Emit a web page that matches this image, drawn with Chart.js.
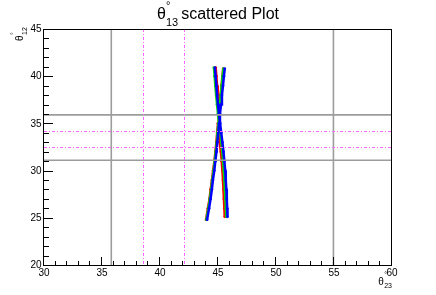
<!DOCTYPE html>
<html><head><meta charset="utf-8">
<script src="https://cdn.jsdelivr.net/npm/chart.js@4.4.0/dist/chart.umd.min.js"></script>
<style>html,body{margin:0;padding:0;background:#fff;}</style>
</head><body>
<canvas id="c" width="436" height="295"></canvas>
<script>
// ---- data ----
const xTicks = [30, 35, 40, 45, 50, 55, 60];
const yTicks = [20, 25, 30, 35, 40, 45];
const xRange = [30, 60];
const yRange = [20, 45];
const grayX = [35.8, 54.95];
const grayY = [35.9, 31.1];
const magentaX = [38.5, 42.1];
const magentaY = [34.17, 32.55];

// branch A: bottom-left -> top-right
const yA = [24.8, 26, 27, 28, 29, 30, 31, 32, 33, 34, 35, 36, 37, 38, 39, 40, 40.8];
const blueA  = [44.06, 44.23, 44.36, 44.47, 44.56, 44.68, 44.77, 44.87, 44.94, 45.02, 45.09, 45.17, 45.26, 45.34, 45.43, 45.51, 45.58];
const redA   = [43.97, 44.13, 44.27, 44.37, 44.48, 44.58, 44.69, 44.78, 44.86, 44.93, 45.00, 45.07, 45.14, 45.22, 45.31, 45.38, 45.45];
const greenA = [44.00, 44.17, 44.30, 44.41, 44.50, 44.62, 44.72, 44.81, 44.90, 44.96, 45.03, 45.08, 45.16, 45.24, 45.32, 45.40, 45.47];
// branch B: top-left -> bottom-right
const yB = [40.9, 40, 39, 38, 37, 36, 35, 34, 33, 32, 31, 30, 29, 28, 27, 26, 25.1];
const blueB  = [44.73, 44.79, 44.86, 44.92, 45.00, 45.08, 45.18, 45.28, 45.38, 45.47, 45.55, 45.62, 45.67, 45.72, 45.76, 45.79, 45.82];
const redB   = [44.80, 44.86, 44.92, 44.98, 45.04, 45.08, 45.10, 45.12, 45.17, 45.25, 45.32, 45.38, 45.43, 45.47, 45.51, 45.55, 45.58];
const greenB = [44.65, 44.71, 44.77, 44.84, 44.92, 45.00, 45.10, 45.20, 45.29, 45.37, 45.44, 45.50, 45.55, 45.60, 45.64, 45.68, 45.71];

const FONT = "'Liberation Sans', Arial, Helvetica, sans-serif";

function pts(xs, ys) { return xs.map((v, i) => ({ x: v, y: ys[i] })); }
function ds(xs, ys, color, w) {
  return { data: pts(xs, ys), showLine: true, borderColor: color, backgroundColor: color,
           borderWidth: w, pointRadius: 1.4, pointBorderWidth: 0, pointHoverRadius: 0 };
}

function thetaLabel(ctx, x, y, sub, size) {
  ctx.font = size + "px " + FONT;
  ctx.textAlign = 'left'; ctx.textBaseline = 'alphabetic';
  ctx.fillText('θ', x, y);
  const w = ctx.measureText('θ').width;
  const ss = Math.round(size * 0.68);
  ctx.font = ss + "px " + FONT;
  ctx.fillText(sub, x + w + 0.5, y + size * 0.38);
  ctx.fillText('°', x + w + 0.5, y - size * 0.72);
  return w + 0.5 + ctx.measureText(sub).width;
}

const rootPlugin = {
  id: 'rootStyle',
  afterDatasetsDraw(chart) {
    const { ctx, chartArea: a, scales: { x, y } } = chart;
    ctx.save();
    const seg = (x1, y1, x2, y2) => { ctx.beginPath(); ctx.moveTo(x1, y1); ctx.lineTo(x2, y2); ctx.stroke(); };
    // gray lines
    ctx.strokeStyle = '#9c9c9c'; ctx.lineWidth = 1.6;
    grayX.forEach(v => { const p = x.getPixelForValue(v); seg(p, a.top, p, a.bottom); });
    grayY.forEach(v => { const p = y.getPixelForValue(v); seg(a.left, p, a.right, p); });
    // magenta dash-dot
    ctx.strokeStyle = '#ff66ff'; ctx.lineWidth = 1; ctx.setLineDash([3, 2, 1, 2]);
    magentaX.forEach(v => { const p = Math.round(x.getPixelForValue(v)) + 0.5; seg(p, a.top, p, a.bottom); });
    magentaY.forEach(v => { const p = Math.round(y.getPixelForValue(v)) + 0.5; seg(a.left, p, a.right, p); });
    ctx.setLineDash([]);
    // frame
    ctx.strokeStyle = '#000'; ctx.lineWidth = 1;
    ctx.strokeRect(a.left - 0.5, a.top + 0.5, a.right - a.left, a.bottom - a.top);
    // x ticks
    for (let v = xRange[0]; v <= xRange[1]; v += 1) {
      const p = Math.round(x.getPixelForValue(v)) - 0.5;
      const major = xTicks.includes(v);
      seg(p, a.bottom, p, a.bottom - (major ? 8 : 4));
    }
    for (let v = yRange[0]; v <= yRange[1]; v += 1) {
      const p = Math.round(y.getPixelForValue(v)) + 0.5;
      const major = yTicks.includes(v);
      seg(a.left, p, a.left + (major ? 9 : 5), p);
    }
    // tick labels
    ctx.fillStyle = '#000';
    ctx.font = "10px " + FONT;
    ctx.textAlign = 'center'; ctx.textBaseline = 'alphabetic';
    xTicks.forEach(v => ctx.fillText(String(v), x.getPixelForValue(v), a.bottom + 10.5));
    ctx.textAlign = 'right'; ctx.textBaseline = 'middle';
    yTicks.forEach(v => ctx.fillText(String(v), a.left - 2.5, y.getPixelForValue(v) + 0.5));
    // title
    ctx.font = "16px " + FONT;
    const wT = ctx.measureText('θ').width;
    ctx.font = "11px " + FONT;
    const wS = ctx.measureText('13 ').width;
    ctx.font = "16px " + FONT;
    const wR = ctx.measureText('scattered Plot').width;
    let tx = chart.width / 2 - (wT + wS + wR) / 2;
    ctx.textAlign = 'left'; ctx.textBaseline = 'alphabetic';
    ctx.fillText('θ', tx, 18.5);
    ctx.font = "11px " + FONT;
    ctx.fillText('13', tx + wT, 25.5);
    ctx.fillText('°', tx + wT, 9);
    ctx.font = "16px " + FONT;
    ctx.fillText('scattered Plot', tx + wT + wS, 18.5);
    // x-axis title (right aligned at axis end)
    ctx.font = "10px " + FONT;
    const wx = ctx.measureText('θ').width;
    ctx.font = "7px " + FONT;
    const wx2 = ctx.measureText('23').width;
    thetaLabel(ctx, a.right - wx - wx2 - 0.5, 284.5, '23', 10);
    // y-axis title (rotated, end at axis top)
    ctx.save();
    ctx.translate(23, a.top + 12);
    ctx.rotate(-Math.PI / 2);
    thetaLabel(ctx, 0, 0, '12', 10);
    ctx.restore();
    ctx.restore();
  }
};

new Chart(document.getElementById('c'), {
  type: 'scatter',
  data: {
    datasets: [
      ds(blueA, yA, '#0000ff', 2.5),
      ds(blueB, yB, '#0000ff', 2.5),
      ds(greenA, yA, '#00dd00', 2.5),
      ds(greenB, yB, '#00dd00', 2.5),
      ds(redA, yA, '#ff0000', 2.5),
      ds(redB, yB, '#ff0000', 2.5)
    ]
  },
  options: {
    responsive: false, animation: false, devicePixelRatio: 1,
    layout: { padding: { left: 44, right: 44, top: 29, bottom: 30 } },
    plugins: { legend: { display: false }, title: { display: false }, tooltip: { enabled: false } },
    scales: {
      x: { type: 'linear', min: xRange[0], max: xRange[1], display: false },
      y: { type: 'linear', min: yRange[0], max: yRange[1], display: false }
    }
  },
  plugins: [rootPlugin]
});
</script>
</body></html>
